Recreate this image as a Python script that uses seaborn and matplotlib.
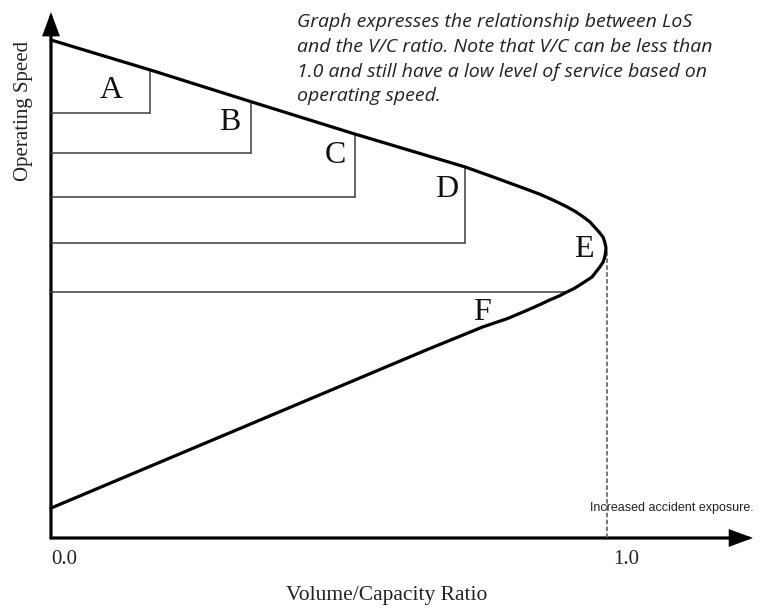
import matplotlib
matplotlib.use("Agg")
import matplotlib.pyplot as plt
from matplotlib.patches import FancyArrowPatch
import seaborn as sns
import pandas as pd

# Speed / volume-capacity relationship (speed as % of free-flow speed)
curve_vc = [0.000, 0.178, 0.360, 0.547, 0.745, 0.795, 0.844, 0.880, 0.906,
            0.928, 0.944, 0.957, 0.969, 0.978, 0.986, 0.993, 0.996, 0.998,
            0.998, 0.996, 0.993, 0.987, 0.980, 0.973, 0.962, 0.951, 0.941,
            0.928, 0.914, 0.897, 0.880, 0.862, 0.822, 0.777, 0.676, 0.000]
curve_speed = [100.0, 94.0, 87.6, 81.1, 74.5, 72.5, 70.5, 69.0, 67.7,
               66.5, 65.5, 64.5, 63.5, 62.4, 61.4, 60.4, 59.4, 58.4,
               57.8, 56.4, 55.4, 54.4, 53.4, 52.4, 51.6, 50.8, 50.1,
               49.4, 48.6, 47.8, 46.9, 46.0, 44.1, 42.4, 37.8, 6.0]

# Level-of-service zones
los_names = ["A", "B", "C", "D", "E", "F"]
los_vc_limit = [0.178, 0.360, 0.547, 0.745, 0.928]      # right edge of each band
los_speed_floor = [85.3, 77.3, 68.5, 59.2, 49.4]        # lower speed of each band
los_speed_top = [94.0, 87.6, 81.1, 74.5]                # speed on the curve at the edge
capacity_vc = 1.0
capacity_speed = 58.1

x_tick_values = [0.0, 1.0]
x_tick_labels = ["0.0", "1.0"]

note_lines = [
    "Graph expresses the relationship between LoS",
    "and the V/C ratio. Note that V/C can be less than",
    "1.0 and still have a low level of service based on",
    "operating speed.",
]

sns.set_theme(style="white")
plt.rcParams["font.family"] = ["Liberation Serif", "DejaVu Serif"]

fig = plt.figure(figsize=(7.62, 6.10), dpi=100)
ax = fig.add_axes([0, 0, 1, 1])
ax.set_xlim(-0.0917, 1.2788)
ax.set_ylim(-14.46, 108.03)

# Axes drawn as arrows
arrow_style = "-|>,head_length=0.65,head_width=0.24"
ax.add_patch(FancyArrowPatch((0, 0), (1.2626, 0), arrowstyle=arrow_style,
                             mutation_scale=20, lw=2.3, color="black",
                             shrinkA=0, shrinkB=0, joinstyle="miter"))
ax.add_patch(FancyArrowPatch((0, 0), (0, 105.6), arrowstyle=arrow_style,
                             mutation_scale=20, lw=2.3, color="black",
                             shrinkA=0, shrinkB=0, joinstyle="miter"))

# LOS band outlines
box_color = "#3c3c3c"
for i, vc in enumerate(los_vc_limit):
    floor = los_speed_floor[i]
    ax.plot([0, vc], [floor, floor], color=box_color, lw=1.1)
    if i < len(los_speed_top):
        ax.plot([vc, vc], [floor, los_speed_top[i]], color=box_color, lw=1.1)

# Capacity marker
ax.plot([capacity_vc, capacity_vc], [0, capacity_speed], color="#555555",
        lw=1.1, ls=(0, (3, 1.5)))

# Speed-flow curve
curve = pd.DataFrame({"vc": curve_vc, "speed": curve_speed})
sns.lineplot(data=curve, x="vc", y="speed", sort=False, estimator=None,
             color="black", lw=2.3, ax=ax)
ax.lines[-1].set_solid_joinstyle("round")
ax.lines[-1].set_solid_capstyle("round")
ax.set_xlim(-0.0917, 1.2788)
ax.set_ylim(-14.46, 108.03)
ax.axis("off")

# LOS letters
label_pos = [(0.108, 88.4), (0.322, 81.9), (0.511, 75.3),
             (0.712, 68.5), (0.959, 56.4), (0.775, 43.8)]
for name, (lx, ly) in zip(los_names, label_pos):
    ax.text(lx, ly, name, fontsize=23, ha="center", va="baseline", color="#111111")

# Tick labels
for val, lab in zip(x_tick_values, x_tick_labels):
    ax.text(val + 0.012 * val, -4.3, lab, fontsize=15, ha="left", va="center",
            color="#222222")

# Axis titles
ax.text(0.604, -11.6, "Volume/Capacity Ratio", fontsize=15.5, ha="center",
        va="center", color="#222222")
ax.text(-0.0486, 85.7, "Operating Speed", fontsize=15, rotation=90,
        ha="center", va="center", color="#222222")

# Notes
ax.text(0.969, 6.0, "Increased accident exposure.", fontsize=9.0,
        family=["Liberation Sans Narrow", "Liberation Sans", "DejaVu Sans"],
        ha="left", va="center", color="#222222")

note_baselines = [102.6, 97.6, 92.6, 87.8]
for line, yb in zip(note_lines, note_baselines):
    ax.text(0.442, yb, line, fontsize=14.0, style="italic",
            family=["Open Sans", "Noto Sans", "DejaVu Sans"],
            ha="left", va="baseline", color="#222222")

fig.savefig("out.png", dpi=100)
